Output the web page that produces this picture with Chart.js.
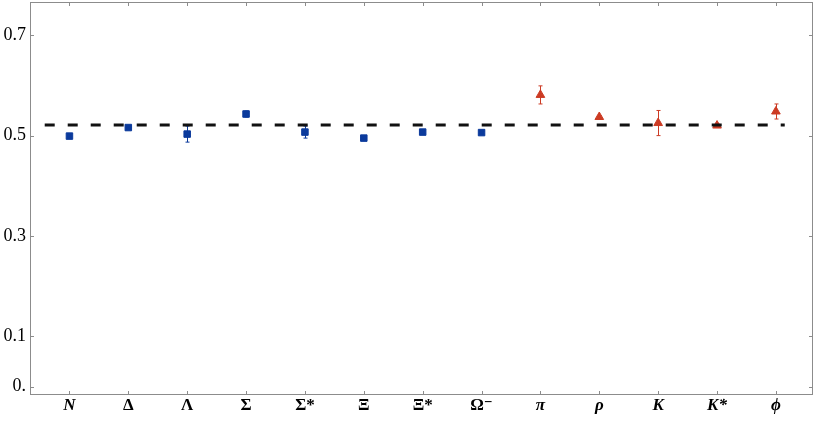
<!DOCTYPE html>
<html>
<head>
<meta charset="utf-8">
<script src="https://cdn.jsdelivr.net/npm/chart.js@4/dist/chart.umd.min.js"></script>
<style>
  html, body { margin: 0; padding: 0; background: #fff; }
  canvas { display: block; }
</style>
</head>
<body>
<canvas id="grafico" width="817" height="421"></canvas>
<script>
// valores
const categorias = ["N", "Δ", "Λ", "Σ", "Σ*", "Ξ", "Ξ*", "Ω⁻", "π", "ρ", "K", "K*", "ϕ"];
const italicos = ["N", "π", "ρ", "K", "K*", "ϕ"];

const barionsIdx = [0, 1, 2, 3, 4, 5, 6, 7];
const barionsValor = [0.499, 0.516, 0.503, 0.543, 0.507, 0.495, 0.507, 0.506];
const barionsErro = [0.003, 0.002, 0.016, 0.006, 0.012, 0.002, 0.003, 0.003];

const mesonsIdx = [8, 9, 10, 11, 12];
const mesonsValor = [0.581, 0.537, 0.525, 0.520, 0.548];
const mesonsErro = [0.018, 0.003, 0.025, 0.003, 0.015];

const linhaRefX = [-0.42, 12.15];
const linhaRefY = 0.521;

const yTicks = [0, 0.1, 0.3, 0.5, 0.7];

const azul = "#0b3a9c";
const vermelho = "#cc3b24";
const cinza = "#8c8c8c";

const errosPlugin = {
  id: "erros",
  beforeDatasetsDraw(chart) {
    const { ctx, scales: { x, y } } = chart;
    ctx.save();
    ctx.lineWidth = 1;
    chart.data.datasets.forEach(ds => {
      if (!ds.erros) return;
      ctx.strokeStyle = ds.borderColor;
      ds.data.forEach((p, i) => {
        const e = ds.erros[i];
        const px = Math.round(x.getPixelForValue(p.x)) + 0.5;
        const y1 = y.getPixelForValue(p.y + e);
        const y2 = y.getPixelForValue(p.y - e);
        ctx.beginPath();
        ctx.moveTo(px, y1); ctx.lineTo(px, y2);
        ctx.moveTo(px - 2, y1); ctx.lineTo(px + 2, y1);
        ctx.moveTo(px - 2, y2); ctx.lineTo(px + 2, y2);
        ctx.stroke();
      });
    });
    ctx.restore();
  }
};

const moldura = {
  id: "moldura",
  afterDraw(chart) {
    const { ctx, chartArea: { left, right, top, bottom }, scales: { x, y } } = chart;
    ctx.save();
    ctx.strokeStyle = cinza;
    ctx.lineWidth = 1;
    ctx.strokeRect(left + 0.5, top + 0.5, right - left - 1, bottom - top - 1);
    ctx.beginPath();
    categorias.forEach((_, i) => {
      const px = Math.round(x.getPixelForValue(i)) + 0.5;
      ctx.moveTo(px, bottom); ctx.lineTo(px, bottom - 4);
      ctx.moveTo(px, top); ctx.lineTo(px, top + 4);
    });
    yTicks.forEach(v => {
      const py = Math.round(y.getPixelForValue(v)) + 0.5;
      ctx.moveTo(left, py); ctx.lineTo(left + 4, py);
      ctx.moveTo(right, py); ctx.lineTo(right - 4, py);
    });
    ctx.stroke();
    ctx.restore();
  }
};

new Chart(document.getElementById("grafico"), {
  type: "scatter",
  data: {
    datasets: [
      {
        data: linhaRefX.map(v => ({ x: v, y: linhaRefY })),
        showLine: true,
        borderColor: "#111",
        borderWidth: 3,
        borderDash: [10, 13],
        pointRadius: 0
      },
      {
        data: barionsIdx.map((c, i) => ({ x: c, y: barionsValor[i] })),
        erros: barionsErro,
        pointStyle: "rect",
        pointRadius: 4.6,
        backgroundColor: azul,
        borderColor: azul,
        borderWidth: 1
      },
      {
        data: mesonsIdx.map((c, i) => ({ x: c, y: mesonsValor[i] })),
        erros: mesonsErro,
        pointStyle: "triangle",
        pointRadius: 5,
        backgroundColor: vermelho,
        borderColor: vermelho,
        borderWidth: 1
      }
    ]
  },
  options: {
    responsive: false,
    animation: false,
    devicePixelRatio: 1,
    layout: { autoPadding: false, padding: { top: 2, right: 4, left: 0, bottom: 0 } },
    plugins: { legend: { display: false }, tooltip: { enabled: false } },
    scales: {
      x: {
        type: "linear",
        min: -0.67,
        max: 12.63,
        grid: { display: false, drawTicks: false },
        border: { display: false },
        afterBuildTicks: s => { s.ticks = categorias.map((_, i) => ({ value: i })); },
        afterFit: s => { s.height = 26; s.paddingLeft = 0; s.paddingRight = 0; },
        ticks: {
          autoSkip: false,
          maxRotation: 0,
          padding: 0,
          color: "#000",
          callback: v => categorias[v],
          font: ctx => {
            const lbl = categorias[ctx.index];
            return {
              family: "'Liberation Serif', 'DejaVu Serif', serif",
              size: 17,
              style: italicos.includes(lbl) ? "italic" : "normal",
              weight: "bold"
            };
          }
        }
      },
      y: {
        min: -0.0165,
        max: 0.766,
        grid: { display: false, drawTicks: false },
        border: { display: false },
        afterBuildTicks: s => { s.ticks = yTicks.map(v => ({ value: v })); },
        afterFit: s => { s.width = 30; s.paddingTop = 0; s.paddingBottom = 0; },
        ticks: {
          padding: 4,
          color: "#000",
          callback: v => v === 0 ? "0." : v.toFixed(1),
          font: { family: "'Liberation Serif', serif", size: 18 }
        }
      }
    }
  },
  plugins: [errosPlugin, moldura]
});
</script>
</body>
</html>
